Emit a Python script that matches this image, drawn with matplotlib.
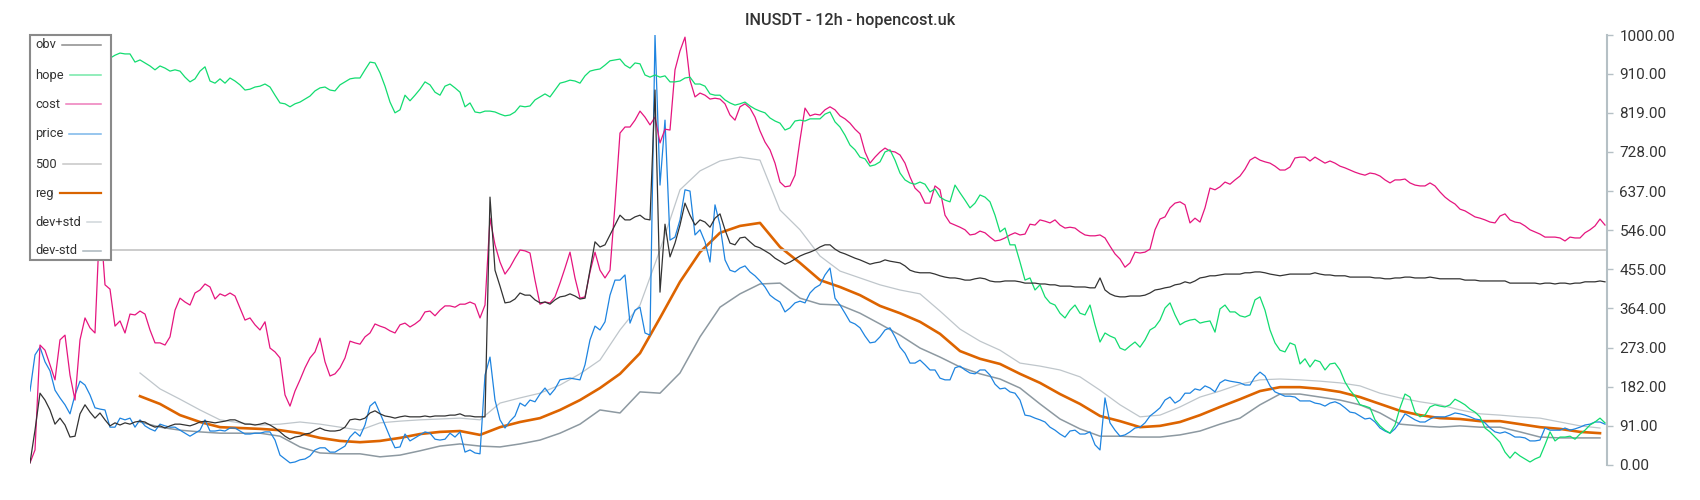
import numpy as np
import matplotlib
matplotlib.use("Agg")
import matplotlib.pyplot as plt
from matplotlib.lines import Line2D
from matplotlib.patches import Rectangle

plt.rcParams["font.family"] = ["Roboto", "DejaVu Sans"]

titulo = "INUSDT - 12h - hopencost.uk"

# series de 12h, una vela por indice
price = [172, 256, 274, 240, 219, 174, 156, 140, 119, 163,
         195, 186, 163, 133, 130, 128, 88, 88, 109, 105,
         109, 88, 105, 91, 84, 79, 95, 91, 88, 88,
         81, 74, 67, 74, 81, 105, 79, 79, 81, 79,
         86, 86, 79, 72, 72, 74, 74, 77, 77, 58,
         23, 14, 5, 7, 12, 14, 21, 35, 40, 40,
         30, 30, 37, 44, 65, 77, 67, 93, 137, 147,
         121, 93, 65, 40, 42, 72, 56, 63, 70, 77,
         74, 60, 58, 60, 74, 65, 77, 30, 35, 28,
         26, 209, 251, 151, 105, 86, 102, 114, 144, 137,
         151, 147, 165, 179, 163, 177, 198, 200, 202, 200,
         198, 233, 291, 323, 314, 333, 395, 430, 430, 442,
         330, 360, 367, 307, 302, 1000, 651, 802, 523, 530,
         570, 640, 637, 535, 547, 519, 472, 605, 558, 477,
         453, 449, 458, 463, 449, 440, 428, 414, 395, 386,
         379, 356, 365, 377, 381, 377, 400, 412, 419, 442,
         458, 388, 372, 353, 333, 328, 319, 300, 284, 286,
         298, 314, 319, 298, 274, 260, 237, 237, 244, 233,
         221, 221, 202, 198, 198, 226, 230, 221, 214, 212,
         221, 221, 209, 188, 177, 179, 170, 167, 151, 116,
         114, 109, 105, 100, 88, 81, 72, 65, 79, 81,
         72, 72, 77, 47, 35, 156, 98, 81, 67, 70,
         77, 86, 88, 98, 114, 123, 133, 151, 158, 144,
         151, 167, 167, 177, 174, 184, 179, 170, 191, 198,
         195, 193, 191, 186, 186, 205, 216, 207, 184, 170,
         165, 160, 160, 158, 149, 149, 149, 144, 142, 137,
         144, 147, 142, 133, 123, 121, 114, 107, 109, 100,
         86, 79, 74, 84, 100, 119, 112, 105, 100, 100,
         107, 112, 112, 112, 116, 121, 119, 116, 112, 107,
         105, 98, 86, 77, 74, 77, 72, 65, 65, 63,
         56, 56, 58, 86, 81, 81, 81, 86, 81, 84,
         88, 93, 95, 100, 100, 95]

obv = [5, 81, 167, 151, 128, 95, 109, 93, 65, 67,
       119, 140, 123, 109, 121, 105, 91, 98, 93, 98,
       95, 100, 102, 100, 93, 88, 91, 86, 91, 95,
       95, 93, 91, 95, 100, 102, 100, 98, 100, 102,
       105, 105, 100, 95, 95, 93, 95, 98, 93, 86,
       77, 67, 60, 65, 67, 72, 74, 81, 86, 81,
       79, 79, 81, 88, 105, 107, 105, 109, 121, 126,
       119, 114, 112, 109, 112, 114, 112, 112, 112, 114,
       112, 114, 114, 114, 116, 116, 119, 114, 114, 112,
       112, 112, 623, 453, 416, 377, 379, 386, 400, 395,
       395, 384, 377, 379, 374, 384, 391, 393, 398, 393,
       386, 388, 453, 519, 507, 512, 535, 558, 581, 570,
       570, 577, 581, 572, 570, 872, 402, 560, 484, 516,
       558, 609, 581, 558, 570, 565, 553, 574, 584, 547,
       516, 512, 528, 530, 519, 509, 505, 498, 491, 481,
       474, 467, 472, 479, 486, 491, 495, 500, 507, 512,
       512, 502, 495, 491, 486, 481, 477, 472, 467, 470,
       472, 477, 474, 472, 470, 463, 453, 449, 447, 447,
       447, 444, 440, 437, 435, 435, 433, 430, 430, 433,
       435, 433, 428, 426, 426, 428, 428, 428, 426, 423,
       423, 423, 421, 421, 419, 419, 416, 416, 416, 414,
       414, 414, 412, 412, 435, 407, 398, 393, 391, 391,
       393, 393, 393, 395, 400, 407, 409, 412, 414, 419,
       421, 426, 423, 428, 435, 437, 440, 440, 442, 444,
       444, 444, 444, 447, 447, 449, 449, 447, 444, 442,
       440, 442, 444, 444, 444, 444, 444, 447, 444, 442,
       442, 440, 440, 440, 437, 437, 437, 437, 437, 435,
       435, 433, 433, 435, 435, 437, 437, 435, 435, 435,
       437, 435, 433, 433, 433, 433, 433, 430, 430, 430,
       428, 428, 428, 428, 428, 428, 423, 423, 423, 423,
       423, 423, 421, 423, 423, 421, 423, 423, 421, 423,
       423, 426, 426, 426, 428, 426]

hope = [990, 998, 995, 975, 965, 960, 955, 958, 950, 948,
        952, 945, 950, 944, 948, 945, 946, 953, 958, 956,
        956, 937, 942, 935, 928, 919, 928, 923, 916, 919,
        916, 902, 891, 898, 916, 926, 893, 888, 898, 888,
        900, 893, 884, 872, 874, 879, 881, 886, 879, 860,
        842, 840, 833, 840, 844, 851, 858, 870, 877, 879,
        872, 870, 884, 891, 898, 900, 900, 919, 937, 935,
        912, 881, 844, 819, 826, 860, 847, 860, 874, 891,
        884, 867, 860, 881, 886, 877, 867, 833, 842, 821,
        819, 823, 823, 821, 816, 812, 814, 821, 835, 833,
        835, 849, 856, 863, 856, 872, 888, 891, 895, 893,
        888, 905, 916, 919, 921, 930, 940, 942, 944, 930,
        923, 935, 933, 907, 902, 907, 902, 905, 891, 891,
        893, 900, 902, 886, 886, 881, 863, 860, 860, 849,
        842, 837, 840, 844, 835, 828, 823, 819, 807, 800,
        795, 779, 784, 800, 802, 800, 805, 805, 805, 816,
        821, 798, 786, 767, 744, 733, 716, 712, 695, 698,
        705, 728, 733, 709, 679, 663, 656, 653, 658, 653,
        635, 642, 623, 616, 612, 651, 633, 616, 598, 609,
        628, 623, 612, 581, 542, 551, 512, 512, 472, 430,
        435, 407, 419, 391, 377, 372, 353, 342, 360, 372,
        353, 349, 372, 326, 286, 307, 300, 295, 272, 267,
        277, 286, 274, 291, 314, 321, 337, 365, 377, 349,
        326, 333, 337, 339, 330, 333, 335, 309, 363, 372,
        356, 356, 347, 344, 349, 384, 391, 360, 314, 284,
        267, 263, 284, 279, 235, 247, 228, 244, 240, 221,
        235, 237, 221, 193, 174, 160, 140, 137, 133, 105,
        91, 81, 74, 93, 133, 165, 158, 123, 112, 116,
        135, 140, 137, 135, 140, 153, 147, 140, 130, 123,
        112, 86, 77, 65, 53, 30, 16, 30, 21, 14,
        7, 14, 19, 47, 77, 56, 65, 65, 67, 60,
        72, 81, 93, 100, 109, 98]

cost = [5, 35, 279, 267, 233, 198, 291, 302, 209, 151,
        291, 342, 319, 307, 581, 419, 409, 323, 335, 307,
        351, 349, 358, 351, 314, 284, 284, 279, 298, 360,
        388, 379, 372, 400, 407, 421, 414, 386, 398, 393,
        400, 393, 365, 337, 342, 326, 314, 333, 272, 263,
        249, 163, 137, 172, 198, 226, 249, 263, 295, 240,
        207, 212, 226, 249, 288, 284, 281, 298, 307, 328,
        323, 319, 312, 307, 326, 330, 321, 328, 337, 356,
        358, 347, 360, 370, 370, 367, 374, 374, 379, 374,
        342, 372, 574, 512, 472, 444, 460, 481, 500, 498,
        493, 430, 374, 379, 377, 391, 423, 458, 495, 435,
        388, 391, 449, 495, 453, 435, 453, 605, 772, 786,
        786, 802, 823, 809, 791, 809, 749, 781, 779, 919,
        963, 995, 895, 856, 865, 860, 851, 853, 851, 840,
        814, 802, 833, 840, 830, 809, 777, 751, 733, 702,
        658, 647, 649, 674, 756, 830, 812, 816, 814, 826,
        833, 826, 812, 805, 795, 781, 770, 728, 702, 716,
        728, 737, 730, 728, 721, 702, 670, 644, 633, 609,
        609, 649, 640, 581, 563, 558, 553, 547, 535, 537,
        544, 540, 530, 521, 523, 528, 535, 540, 535, 537,
        560, 558, 570, 567, 563, 570, 558, 551, 553, 551,
        542, 535, 533, 533, 535, 528, 509, 491, 479, 460,
        470, 495, 493, 495, 502, 547, 572, 577, 598, 609,
        612, 605, 563, 574, 565, 598, 644, 640, 647, 658,
        653, 663, 672, 688, 709, 716, 709, 705, 702, 695,
        686, 686, 693, 714, 716, 716, 707, 716, 709, 702,
        707, 702, 695, 691, 686, 681, 677, 674, 679, 677,
        672, 663, 656, 663, 663, 665, 656, 651, 649, 649,
        656, 649, 635, 623, 614, 607, 595, 591, 584, 577,
        574, 570, 565, 563, 579, 584, 570, 565, 563, 556,
        547, 542, 537, 530, 530, 530, 528, 521, 530, 528,
        528, 540, 547, 556, 572, 558]

nivel = 500

# regresion y bandas, leidas cada 4 velas desde la vela 22
inicio_reg = 22
paso_reg = 4
reg = [160, 142, 116, 100, 88, 86, 84, 81, 74, 63,
       56, 53, 56, 63, 72, 77, 79, 70, 88, 100,
       109, 128, 151, 179, 212, 260, 342, 426, 495, 540,
       556, 563, 507, 470, 430, 414, 395, 370, 353, 333,
       305, 265, 247, 235, 212, 191, 165, 142, 114, 102,
       88, 91, 100, 116, 135, 153, 172, 181, 181, 177,
       170, 158, 142, 126, 116, 109, 107, 102, 102, 95,
       88, 84, 77, 74]
dev_mas = [214, 177, 153, 128, 105, 98, 93, 95, 100, 95,
           88, 81, 98, 102, 105, 107, 109, 105, 144, 156,
           167, 186, 212, 244, 314, 372, 500, 640, 684, 707,
           716, 709, 593, 547, 486, 451, 435, 419, 407, 398,
           358, 316, 288, 267, 237, 230, 221, 205, 174, 140,
           112, 116, 135, 158, 172, 188, 198, 200, 198, 195,
           191, 184, 167, 156, 147, 140, 128, 119, 116, 112,
           109, 100, 91, 86]
dev_menos = [100, 88, 81, 77, 74, 74, 74, 67, 42, 28,
             26, 26, 19, 23, 33, 44, 49, 44, 42, 49,
             58, 74, 95, 128, 121, 170, 167, 214, 298, 367,
             398, 421, 423, 388, 374, 372, 353, 328, 302, 272,
             251, 228, 212, 200, 179, 142, 107, 84, 67, 67,
             65, 65, 70, 79, 95, 109, 140, 165, 165, 158,
             151, 140, 121, 95, 91, 88, 91, 88, 88, 77,
             65, 63, 63, 63]

yticks = [0, 91, 182, 273, 364, 455, 546, 637, 728, 819, 910, 1000]

W, H = 1700, 500
fig = plt.figure(figsize=(W / 100, H / 100), dpi=100)
ax = fig.add_axes([30 / W, 35 / H, 1577 / W, 430 / H])

x = np.arange(len(price))
xr = np.arange(inicio_reg, inicio_reg + paso_reg * len(reg), paso_reg)

# nombre, x, y, color linea, grosor, color leyenda, grosor leyenda
series = [
    ("obv", x, obv, "#333333", 0.9, "#8c8c8c", 1.1),
    ("hope", x, hope, "#12dc70", 0.9, "#74e8a8", 1.1),
    ("cost", x, cost, "#e5157f", 0.9, "#ee7cba", 1.1),
    ("price", x, price, "#1e84e0", 0.9, "#7ab6ea", 1.1),
    ("500", x, [nivel] * len(x), "#c8c8c8", 1.3, "#c6c6c6", 1.1),
    ("reg", xr, reg, "#dd6400", 1.9, "#d96400", 1.6),
    ("dev+std", xr, dev_mas, "#bfc6cb", 0.9, "#d0d6da", 1.1),
    ("dev-std", xr, dev_menos, "#8d99a1", 1.1, "#aab5bc", 1.1),
]

for i, (nombre, xs, ys, col, lw, _, _) in enumerate(reversed(series)):
    ax.plot(xs, ys, color=col, lw=lw, zorder=2 + i)

ax.set_xlim(0, 1577 / 5)
ax.set_ylim(0, 1000)
ax.xaxis.set_visible(False)
ax.yaxis.tick_right()
ax.set_yticks(yticks)
ax.set_yticklabels([f"{v:.2f}" for v in yticks])
ax.tick_params(axis="y", labelcolor="#333333", color="#b5c0c5", length=4,
               width=1, pad=5, labelsize=11)
for lado in ["left", "top", "bottom"]:
    ax.spines[lado].set_visible(False)
ax.spines["right"].set_color("#b5c0c5")
ax.spines["right"].set_linewidth(1.5)

fig.text(0.5, 1 - 20 / H, titulo, ha="center", va="center", fontsize=11.7,
         color="#333333", fontweight="medium")

# leyenda a mano: texto a la izquierda, linea hasta el borde derecho
caja = Rectangle((30 / W, 1 - 260 / H), 81 / W, 225 / H, transform=fig.transFigure,
                 facecolor="white", edgecolor="#8a8a8a", lw=1.5, zorder=5)
fig.add_artist(caja)
renderer = fig.canvas.get_renderer()
filas = [45, 75, 104, 134, 164, 193, 222, 251]
for (nombre, _, _, _, _, col_ley, lw_ley), yp in zip(series, filas):
    t = fig.text(35 / W, 1 - yp / H, nombre, fontsize=9.3, color="#333333",
                 ha="left", va="center", zorder=6)
    bb = t.get_window_extent(renderer)
    fig.add_artist(Line2D([(bb.x1 + 6) / W, 101 / W], [1 - yp / H, 1 - yp / H],
                          transform=fig.transFigure, color=col_ley, lw=lw_ley, zorder=6))

fig.savefig("out.png", dpi=100)
